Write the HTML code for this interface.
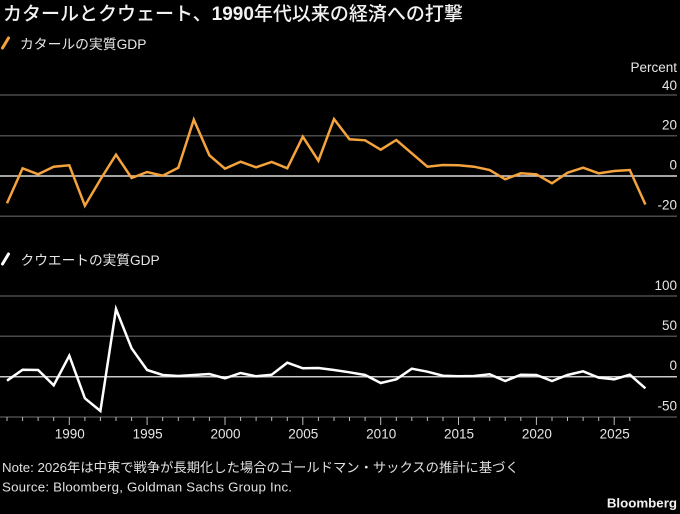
<!DOCTYPE html>
<html><head><meta charset="utf-8"><style>
html,body{margin:0;padding:0;background:#000;}
svg{display:block;}
text{font-family:"Liberation Sans","Noto Sans CJK JP",sans-serif;}
</style></head><body>
<svg width="680" height="514" viewBox="0 0 680 514" xmlns="http://www.w3.org/2000/svg">
<rect width="680" height="514" fill="#000"/>
<text x="3" y="20" font-size="19" fill="#f2f2f2" font-weight="500">カタールとクウェート、<tspan font-weight="bold">1990</tspan>年代以来の経済への打撃</text>
<line x1="2.5" y1="48" x2="8.5" y2="38" stroke="#f5a33c" stroke-width="3" stroke-linecap="round"/>
<text x="20" y="49" font-size="13.8" fill="#e6e6e6">カタールの実質GDP</text>
<text x="677" y="72" font-size="13.5" fill="#e6e6e6" text-anchor="end">Percent</text>
<g stroke="#4a4a4a" stroke-width="1.5">
<line x1="0" y1="95" x2="677" y2="95"/>
<line x1="0" y1="135.7" x2="677" y2="135.7"/>
<line x1="0" y1="216.3" x2="677" y2="216.3"/>
</g>
<line x1="0" y1="176" x2="677" y2="176" stroke="#d9d9d9" stroke-width="1.5"/>
<g font-size="13.5" fill="#e6e6e6" text-anchor="end">
<text x="677" y="90">40</text>
<text x="677" y="129.5">20</text>
<text x="677" y="169.5">0</text>
<text x="677" y="209.5">-20</text>
</g>
<polyline fill="none" stroke="#f5a33c" stroke-width="2.5" points="7,203.3 22.6,168.3 38.1,174.3 53.7,166.7 69.3,165.3 84.9,205.7 100.4,179.5 116,154.7 131.6,178 147.1,172 162.7,175.7 178.3,167.7 193.8,119.7 209.4,155.3 225,168.7 240.6,161.7 256.1,167.3 271.7,162 287.3,168.3 302.8,136.7 318.4,160.7 334,119 349.5,139.3 365.1,140.3 380.7,149.7 396.3,140 411.8,153.3 427.4,166.7 443,165 458.5,165.3 474.1,166.7 489.7,170 505.2,179.3 520.8,173.3 536.4,174.3 552,183.3 567.5,172.7 583.1,167.7 598.7,173.3 614.2,171 629.8,170 645.4,204.5"/>
<line x1="2.5" y1="264" x2="8.5" y2="254" stroke="#ffffff" stroke-width="3" stroke-linecap="round"/>
<text x="20.5" y="265" font-size="13.7" fill="#e6e6e6">クウエートの実質GDP</text>
<g stroke="#4a4a4a" stroke-width="1.5">
<line x1="0" y1="296" x2="677" y2="296"/>
<line x1="0" y1="336.3" x2="677" y2="336.3"/>
<line x1="0" y1="417" x2="677" y2="417"/>
</g>
<line x1="0" y1="376.7" x2="677" y2="376.7" stroke="#c8c8c8" stroke-width="1.5"/>
<g font-size="13.5" fill="#e6e6e6" text-anchor="end">
<text x="677" y="290">100</text>
<text x="677" y="330">50</text>
<text x="677" y="370">0</text>
<text x="677" y="410.5">-50</text>
</g>
<path stroke="#bbbbbb" stroke-width="1" fill="none" d="M7 417v4M22.6 417v4M38.1 417v4M53.7 417v4M69.3 417v8M84.9 417v4M100.4 417v4M116 417v4M131.6 417v4M147.1 417v8M162.7 417v4M178.3 417v4M193.8 417v4M209.4 417v4M225 417v8M240.6 417v4M256.1 417v4M271.7 417v4M287.3 417v4M302.8 417v8M318.4 417v4M334 417v4M349.5 417v4M365.1 417v4M380.7 417v8M396.3 417v4M411.8 417v4M427.4 417v4M443 417v4M458.5 417v8M474.1 417v4M489.7 417v4M505.2 417v4M520.8 417v4M536.4 417v8M552 417v4M567.5 417v4M583.1 417v4M598.7 417v4M614.2 417v8M629.8 417v4"/>
<g font-size="13.5" fill="#e6e6e6" text-anchor="middle">
<text x="69.8" y="438.5">1990</text>
<text x="147.6" y="438.5">1995</text>
<text x="225.5" y="438.5">2000</text>
<text x="303.3" y="438.5">2005</text>
<text x="381.2" y="438.5">2010</text>
<text x="459" y="438.5">2015</text>
<text x="536.9" y="438.5">2020</text>
<text x="614.7" y="438.5">2025</text>
</g>
<polyline fill="none" stroke="#ffffff" stroke-width="2.5" points="7,380.7 22.6,369.7 38.1,370 53.7,385.3 69.3,355.7 84.9,398.3 100.4,411 116,309 131.6,348.3 147.1,370 162.7,375 178.3,376 193.8,375 209.4,374 225,378.3 240.6,373 256.1,376.3 271.7,374.7 287.3,362.7 302.8,368.3 318.4,368 334,370 349.5,372.3 365.1,375 380.7,383 396.3,379.3 411.8,368.7 427.4,371.7 443,375.7 458.5,376.3 474.1,376 489.7,374.3 505.2,381 520.8,374.7 536.4,375 552,381 567.5,375 583.1,371.3 598.7,377.7 614.2,379.3 629.8,374.7 645.4,388.3"/>
<text x="2" y="472" font-size="13.3" fill="#e0e0e0">Note: 2026年は中東で戦争が長期化した場合のゴールドマン・サックスの推計に基づく</text>
<text x="2" y="491.5" font-size="13.3" fill="#e0e0e0" letter-spacing="0.2">Source: Bloomberg, Goldman Sachs Group Inc.</text>
<text x="677" y="507.5" font-size="13.3" font-weight="bold" fill="#f2f2f2" text-anchor="end">Bloomberg</text>
</svg>
</body></html>
